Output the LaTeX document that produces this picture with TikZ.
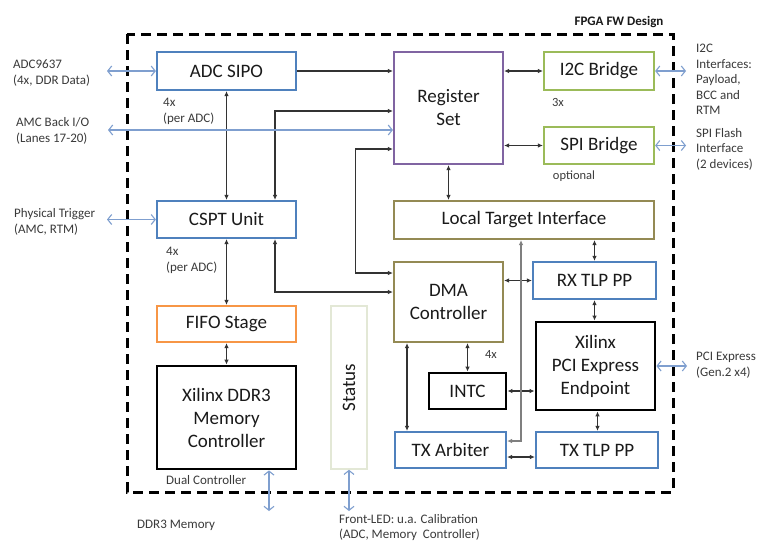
\documentclass[tikz,border=0pt]{standalone}
\usepackage{fontspec}
\setmainfont{Carlito}
\usetikzlibrary{arrows.meta}
\definecolor{myblue}{HTML}{4F81BD}
\definecolor{mypurple}{HTML}{8064A2}
\definecolor{mygreen}{HTML}{9BBB59}
\definecolor{myolive}{HTML}{948A54}
\definecolor{myorange}{HTML}{F79646}
\definecolor{mystatus}{HTML}{E3E8D6}
\definecolor{lightarrow}{HTML}{7F9FCF}
\definecolor{conn}{HTML}{333333}
\definecolor{graycon}{HTML}{7F7F7F}
\definecolor{boxtext}{HTML}{1A1A1A}
\definecolor{lbltext}{HTML}{3A3A3A}
\begin{document}
\begin{tikzpicture}[x=1pt,y=-1pt,
  box/.style={draw, inner sep=0pt, align=center, text=boxtext, font=\fontsize{19}{23}\selectfont},
  bluebox/.style={box, draw=myblue, line width=2.2pt},
  purplebox/.style={box, draw=mypurple, line width=2.2pt},
  greenbox/.style={box, draw=mygreen, line width=2.2pt},
  olivebox/.style={box, draw=myolive, line width=2.2pt},
  orangebox/.style={box, draw=myorange, line width=2.2pt},
  blackbox/.style={box, draw=black, line width=2.8pt},
  statusbox/.style={box, draw=mystatus, line width=1.5pt},
  lbl/.style={inner sep=0pt, align=left, text=lbltext, font=\fontsize{13}{15.5}\selectfont},
  small/.style={inner sep=0pt, text=lbltext, font=\fontsize{12.5}{15}\selectfont},
  blk/.style={draw=conn, line width=1.1pt, {Latex[length=5pt,width=4.5pt]}-{Latex[length=5pt,width=4.5pt]}},
  blkone/.style={draw=conn, line width=1.1pt, -{Latex[length=5pt,width=4.5pt]}},
  gry/.style={draw=graycon, line width=1.6pt, {Latex[length=5pt,width=4.5pt]}-{Latex[length=5pt,width=4.5pt]}},
  bl/.style={draw=lightarrow, line width=1.1pt, {Straight Barb[length=4pt,width=10pt]}-{Straight Barb[length=4pt,width=10pt]}},
  frame/.style={draw=black, line width=3pt, dash pattern=on 10pt off 6pt}
]
\useasboundingbox (0,0) rectangle (757,544);
\fill[white] (0,0) rectangle (757,544);

% frame
\draw[frame] (127,34) rectangle (673,492);
\node[inner sep=0pt, font=\fontsize{13}{15}\selectfont\bfseries, text=boxtext] (title) at (619,22) {FPGA FW Design};

% boxes
\node[bluebox, minimum width=139pt, minimum height=38pt] (adc) at (226.5,71) {ADC SIPO};
\node[bluebox, minimum width=139pt, minimum height=37pt] (cspt) at (226.5,219.5) {CSPT Unit};
\node[orangebox, minimum width=139pt, minimum height=36pt] (fifo) at (226.5,324) {FIFO Stage};
\node[blackbox, minimum width=139pt, minimum height=103pt] (ddr) at (226.5,417.5) {Xilinx DDR3\\Memory\\Controller};
\node[statusbox, minimum width=36pt, minimum height=163pt] (status) at (349,387.5) {};
\node[rotate=90, inner sep=0pt, text=boxtext, font=\fontsize{19}{23}\selectfont] (statustxt) at (status.center) {Status};
\node[purplebox, minimum width=109pt, minimum height=112pt] (reg) at (448.5,108) {Register\\Set};
\node[greenbox, minimum width=110pt, minimum height=38pt] (i2c) at (599,71) {I2C Bridge};
\node[greenbox, minimum width=110pt, minimum height=37pt] (spi) at (599,145.5) {SPI Bridge};
\node[olivebox, minimum width=260pt, minimum height=38pt] (lti) at (524,220) {Local Target Interface};
\node[olivebox, minimum width=109pt, minimum height=80pt] (dma) at (448.5,302) {DMA\\Controller};
\node[bluebox, minimum width=123pt, minimum height=37pt] (rx) at (594.5,280.5) {RX TLP PP};
\node[blackbox, minimum width=119pt, minimum height=88pt] (pcie) at (595.5,366) {Xilinx\\PCI Express\\Endpoint};
\node[blackbox, minimum width=77pt, minimum height=36pt] (intc) at (467.5,391) {INTC};
\node[bluebox, minimum width=111pt, minimum height=36pt] (txarb) at (450.5,450) {TX Arbiter};
\node[bluebox, minimum width=122pt, minimum height=36pt] (txtlp) at (597,450) {TX TLP PP};

% labels
\node[lbl, anchor=west] (l1) at (13,73) {ADC9637\\(4x, DDR Data)};
\node[lbl, anchor=west] (l2) at (16,131) {AMC Back I/O\\(Lanes 17-20)};
\node[lbl, anchor=west] (l3) at (14,222) {Physical Trigger\\(AMC, RTM)};
\node[lbl, anchor=west] (l4) at (163,111.5) {4x\\(per ADC)};
\node[lbl, anchor=west] (l5) at (166,260.5) {4x\\(per ADC)};
\node[lbl, anchor=west] (l6) at (696,79.5) {I2C\\Interfaces:\\Payload,\\BCC and\\RTM};
\node[lbl, anchor=west] (l7) at (696,149) {SPI Flash\\Interface\\(2 devices)};
\node[lbl, anchor=west] (l8) at (696,365) {PCI Express\\(Gen.2 x4)};
\node[lbl, anchor=west] (l9) at (166,480) {Dual Controller};
\node[lbl, anchor=west] (l10) at (137,525.5) {DDR3 Memory};
\node[lbl, anchor=north west, font=\fontsize{13}{14.5}\selectfont] (l11) at (339,514.5) {Front-LED: u.a. Calibration\\(ADC, Memory\ \ Controller)};
\node[small] (l12) at (558,102) {3x};
\node[small] (l13) at (574,176) {optional};
\node[small] (l14) at (491,354.5) {4x};

% black connectors
\draw[blkone] (adc.east) -- (adc.east -| reg.west);
\draw[blk] (adc.south) -- (cspt.north);
\draw[blk] ([yshift=-3pt]reg.west) -| ([xshift=48.5pt]cspt.north);
\draw[blk] ([yshift=-41pt]reg.west) -- ++(-37,0) |- ([yshift=29pt]dma.west);
\draw[blk] ([xshift=48.5pt]cspt.south) |- ([yshift=10pt]dma.west);
\draw[blk] (cspt.south) -- (fifo.north);
\draw[blk] (fifo.south) -- (ddr.north);
\draw[blk] (reg.south) -- (reg.south |- lti.north);
\draw[blk] (reg.east |- i2c.west) -- (i2c.west);
\draw[blk] (reg.east |- spi.west) -- (spi.west);
\draw[blk] (rx.north) -- (rx.north |- lti.south);
\draw[blk] (dma.east |- rx.west) -- (rx.west);
\draw[blk] (rx.south) -- (rx.south |- pcie.north);
\draw[blk] (intc.north) -- (intc.north |- dma.south);
\draw[blk] (intc.east) -- (intc.east -| pcie.west);
\draw[blk] ([xshift=2pt]pcie.south) -- ([xshift=2pt]pcie.south |- txtlp.north);
\draw[blk] ([xshift=-41.5pt]dma.south) -- ([xshift=-41.5pt]dma.south |- txarb.north);
\draw[blk] ([yshift=-7pt]txarb.east) -- ([yshift=-7pt]txarb.east -| txtlp.west);
\draw[gry] ([yshift=9pt]txarb.east) -| ([xshift=-3pt]lti.south);

% external (blue) connectors
\coordinate (eadc) at (107,71);
\coordinate (eamc) at (108,130);
\coordinate (etrig) at (107,219.5);
\coordinate (ei2c) at (686,71);
\coordinate (espi) at (686,145.5);
\coordinate (epcie) at (687,366);
\coordinate (eddr) at (269,511);
\coordinate (estat) at (349,511);
\draw[bl] (eadc) -- (adc.west);
\draw[bl] (eamc) -- (eamc -| reg.west);
\draw[bl] (etrig) -- (cspt.west);
\draw[bl] (i2c.east) -- (ei2c);
\draw[bl] (spi.east) -- (espi);
\draw[bl] (pcie.east) -- (epcie);
\draw[bl] (eddr |- ddr.south) -- (eddr);
\draw[bl] (status.south) -- (estat);
\end{tikzpicture}
\end{document}
